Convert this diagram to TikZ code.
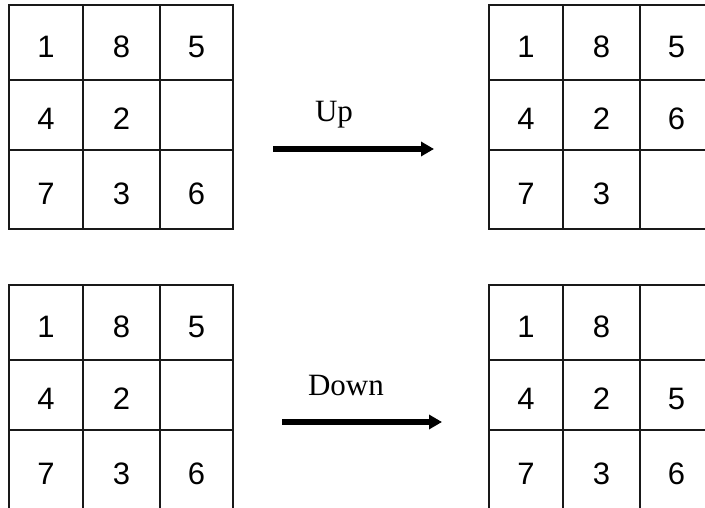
\documentclass[tikz,border=0pt]{standalone}
\usepackage{fontspec}
\setmainfont{Liberation Serif}
\newfontfamily\digitfont{Liberation Sans}
\usetikzlibrary{arrows.meta}
\tikzset{
  cellbox/.style={draw=black!90, line width=1.2pt, rectangle, inner sep=0pt},
  digit/.style={font=\digitfont\fontsize{31}{31}\selectfont, inner sep=0pt},
  lbl/.style={font=\fontsize{31}{31}\selectfont, inner sep=0pt, anchor=base},
  bigarrow/.style={line width=5.5pt, -{Triangle[length=13pt,width=14pt]}}
}
\newcommand\puzzlegrid[4]{%
  \begin{scope}[shift={(#2,#3)}]
  \foreach \r/\ya/\yb in {1/0/75,2/75/145,3/145/224}{
    \foreach \c/\xa/\xb in {1/0/74,2/74/151,3/151/224}{
      \node[cellbox, minimum width={(\xb-\xa)*1pt}, minimum height={(\yb-\ya)*1pt}]
        (#1-\r-\c) at ({(\xa+\xb)/2},{(\ya+\yb)/2}) {};
    }
  }
  \foreach \r/\c/\d in {#4}{
    \node[digit] (#1-d-\r-\c) at ([yshift=-4pt]#1-\r-\c.center) {\d};
  }
  \end{scope}}
\begin{document}
\begin{tikzpicture}[x=1pt,y=-1pt]
  \useasboundingbox (0,0) rectangle (705,508);
  \clip (0,0) rectangle (705,508);
  \fill[white] (0,0) rectangle (705,508);
  % top row
  \puzzlegrid{A}{9}{5}{1/1/1,1/2/8,1/3/5,2/1/4,2/2/2,3/1/7,3/2/3,3/3/6}
  \puzzlegrid{B}{489}{5}{1/1/1,1/2/8,1/3/5,2/1/4,2/2/2,2/3/6,3/1/7,3/2/3}
  % bottom row
  \puzzlegrid{C}{9}{285}{1/1/1,1/2/8,1/3/5,2/1/4,2/2/2,3/1/7,3/2/3,3/3/6}
  \puzzlegrid{D}{489}{285}{1/1/1,1/2/8,2/1/4,2/2/2,2/3/5,3/1/7,3/2/3,3/3/6}
  % arrows
  \coordinate (upS) at (273,149);
  \coordinate (upE) at (434,149);
  \draw[bigarrow] (upS) -- (upE);
  \node[lbl] (upL) at (334,122) {Up};
  \coordinate (dnS) at (282,422);
  \coordinate (dnE) at (442,422);
  \draw[bigarrow] (dnS) -- (dnE);
  \node[lbl] (dnL) at (346,395) {Down};
\end{tikzpicture}
\end{document}
